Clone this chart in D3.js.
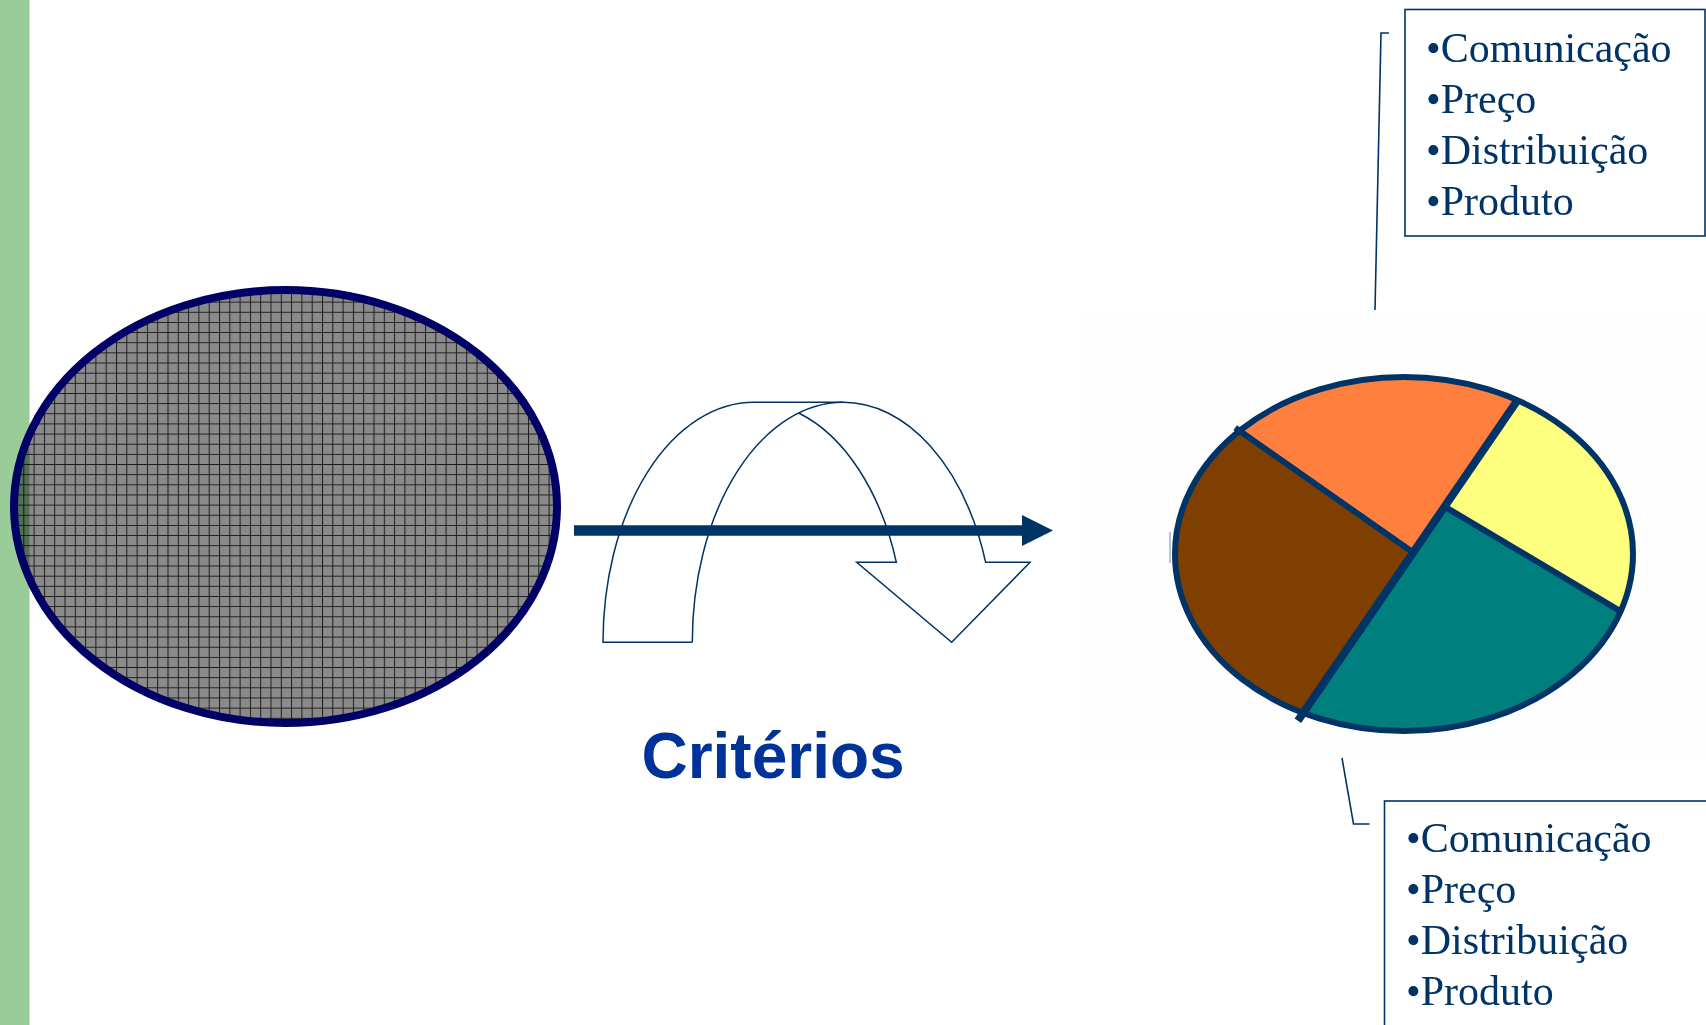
<!DOCTYPE html>
<html>
<head>
<meta charset="utf-8">
<script src="https://cdn.jsdelivr.net/npm/d3@7"></script>
<style>
  html, body { margin: 0; padding: 0; background: #ffffff; }
  svg { display: block; }
</style>
</head>
<body>
<svg id="chart" width="1706" height="1025"></svg>
<script>
// Marketing-mix items listed in both callouts
const mixItems = ["Comunicação", "Preço", "Distribuição", "Produto"];
// Segment shares of the segmented market (pie), clockwise from upper-left
const segmentNames = ["Segmento A", "Segmento B", "Segmento C", "Segmento D"];
const segmentValues = [21, 22, 27, 30];
const segmentColors = ["#ff7f3f", "#ffff7f", "#007f7f", "#7f3f00"];
const processLabel = "Critérios";

const svg = d3.select("#chart");
const ink = "#003366";

// ---- patterns ----
const defs = svg.append("defs");
const grid = defs.append("pattern")
  .attr("id", "grid").attr("patternUnits", "userSpaceOnUse")
  .attr("x", 2.7).attr("y", 7.3).attr("width", 10.3).attr("height", 10.15);
grid.append("rect").attr("width", 10.3).attr("height", 10.15).attr("fill", "#8a8a8a");
grid.append("path").attr("d", "M0,0.5H10.3M0.5,0V10.15")
  .attr("stroke", "#1c1c1c").attr("stroke-width", 1).attr("fill", "none");

// ---- left accent strip ----
svg.append("rect").attr("x", 0).attr("y", 0).attr("width", 29.5).attr("height", 1025)
  .attr("fill", "#99cc99");

// ---- undifferentiated market (hatched ellipse) ----
const market = { cx: 285.5, cy: 506.5, rx: 271.5, ry: 216.5 };
svg.append("ellipse")
  .attr("cx", market.cx).attr("cy", market.cy).attr("rx", market.rx).attr("ry", market.ry)
  .attr("fill", "url(#grid)").style("mix-blend-mode", "multiply");
svg.append("ellipse")
  .attr("cx", market.cx).attr("cy", market.cy).attr("rx", market.rx).attr("ry", market.ry)
  .attr("fill", "none").attr("stroke", "#000066").attr("stroke-width", 8);

// ---- curved (U-turn) arrow outline ----
const bend = { base: 642.3, top: 402.3, rx: 151, cxA: 754, cxB: 843.3, neck: 562.3 };
const ry = bend.base - bend.top;
const xOnEllipse = (cx, y, side) => cx + side * bend.rx * Math.sqrt(1 - Math.pow((bend.base - y) / ry, 2));
const s = (bend.cxB - bend.cxA) / (2 * bend.rx);
const cross = { x: bend.cxA + bend.rx * s, y: bend.base - ry * Math.sqrt(1 - s * s) };
const neckOuter = xOnEllipse(bend.cxB, bend.neck, 1);
const neckInner = xOnEllipse(bend.cxA, bend.neck, 1);
const head = { right: 1030, left: 856.7, tipX: 951.7 };

const outline =
  `M${bend.cxB - bend.rx},${bend.base}L${bend.cxA - bend.rx},${bend.base}` +
  `A${bend.rx},${ry} 0 0 1 ${bend.cxA},${bend.top}` +
  `L${bend.cxB},${bend.top}` +
  `A${bend.rx},${ry} 0 0 1 ${neckOuter},${bend.neck}` +
  `L${head.right},${bend.neck}L${head.tipX},${bend.base}L${head.left},${bend.neck}L${neckInner},${bend.neck}` +
  `A${bend.rx},${ry} 0 0 0 ${cross.x},${cross.y}`;
const innerEdge =
  `M${bend.cxB - bend.rx},${bend.base}A${bend.rx},${ry} 0 0 1 ${bend.cxB},${bend.top}`;
svg.append("path").attr("d", outline)
  .attr("fill", "none").attr("stroke", ink).attr("stroke-width", 1.5).attr("stroke-linejoin", "miter");
svg.append("path").attr("d", innerEdge)
  .attr("fill", "none").attr("stroke", ink).attr("stroke-width", 1.5);

// ---- straight process arrow ----
const shaft = { x0: 574, x1: 1023, y: 530.5, w: 10.5 };
svg.append("line")
  .attr("x1", shaft.x0).attr("x2", shaft.x1).attr("y1", shaft.y).attr("y2", shaft.y)
  .attr("stroke", ink).attr("stroke-width", shaft.w);
svg.append("path")
  .attr("d", `M${shaft.x1 - 1},${shaft.y - 15.5}L1053,${shaft.y}L${shaft.x1 - 1},${shaft.y + 15.5}Z`)
  .attr("fill", ink);

svg.append("text")
  .attr("x", 773).attr("y", 778)
  .attr("text-anchor", "middle")
  .attr("font-family", "'Liberation Sans', Arial, sans-serif")
  .attr("font-weight", "bold").attr("font-size", 64)
  .attr("fill", "#003399")
  .text(processLabel);

// ---- segmented market (pie) ----
svg.append("rect").attr("x", 1078).attr("y", 310).attr("width", 628).attr("height", 447)
  .attr("fill", "#fefefe");

const pieGeo = { cx: 1404, cy: 554, rx: 229, ry: 177, start: -45.9 * Math.PI / 180 };
const rim = a => [pieGeo.cx + pieGeo.rx * Math.sin(a), pieGeo.cy - pieGeo.ry * Math.cos(a)];
const arcs = d3.pie().sort(null)
  .startAngle(pieGeo.start).endAngle(pieGeo.start + 2 * Math.PI)(segmentValues);

// main dividing line runs from the first inner boundary to the opposite one
const lineTop = rim(arcs[1].startAngle);
const lineBottom = rim(arcs[3].startAngle);
const along = t => [lineTop[0] + t * (lineBottom[0] - lineTop[0]), lineTop[1] + t * (lineBottom[1] - lineTop[1])];
// where the secondary boundaries meet the main line
const hubUpper = along(0.34);
const hubLower = along(0.487);
const hubs = [hubLower, hubUpper, hubUpper, hubLower];

svg.append("g").selectAll("path")
  .data(arcs)
  .join("path")
  .attr("d", (d, i) => {
    const a0 = rim(d.startAngle), a1 = rim(d.endAngle);
    const large = (d.endAngle - d.startAngle) > Math.PI ? 1 : 0;
    return `M${hubs[i][0]},${hubs[i][1]}L${a0[0]},${a0[1]}` +
      `A${pieGeo.rx},${pieGeo.ry} 0 ${large} 1 ${a1[0]},${a1[1]}Z`;
  })
  .attr("fill", (d, i) => segmentColors[i])
  .attr("stroke", "none");

svg.append("ellipse")
  .attr("cx", pieGeo.cx).attr("cy", pieGeo.cy).attr("rx", pieGeo.rx).attr("ry", pieGeo.ry)
  .attr("fill", "none").attr("stroke", ink).attr("stroke-width", 6);

// secondary boundaries
const extend = (from, to, k) => [to[0] + (to[0] - from[0]) * k, to[1] + (to[1] - from[1]) * k];
const boA = rim(arcs[0].startAngle);
const boAx = extend(hubLower, boA, 0.025);
svg.append("line")
  .attr("x1", hubLower[0]).attr("y1", hubLower[1]).attr("x2", boAx[0]).attr("y2", boAx[1])
  .attr("stroke", ink).attr("stroke-width", 6);
const ytA = rim(arcs[2].startAngle);
svg.append("line")
  .attr("x1", hubUpper[0]).attr("y1", hubUpper[1]).attr("x2", ytA[0]).attr("y2", ytA[1])
  .attr("stroke", ink).attr("stroke-width", 6);
const lbx = extend(lineTop, lineBottom, 0.025);
svg.append("line")
  .attr("x1", lineTop[0]).attr("y1", lineTop[1]).attr("x2", lbx[0]).attr("y2", lbx[1])
  .attr("stroke", ink).attr("stroke-width", 8);
svg.append("line")
  .attr("x1", 1170).attr("x2", 1170).attr("y1", 532).attr("y2", 563)
  .attr("stroke", "#6f88a8").attr("stroke-width", 1);

// ---- callouts ----
function callout(box, leader, textX, baseline0) {
  svg.append("rect")
    .attr("x", box.x).attr("y", box.y).attr("width", box.w).attr("height", box.h)
    .attr("fill", "#ffffff").attr("stroke", ink).attr("stroke-width", 1.6);
  svg.append("path").attr("d", d3.line()(leader))
    .attr("fill", "none").attr("stroke", ink).attr("stroke-width", 1.6);
  svg.append("g").selectAll("text")
    .data(mixItems)
    .join("text")
    .attr("x", textX)
    .attr("y", (d, i) => baseline0 + i * 51)
    .attr("font-family", "'Liberation Serif', 'Times New Roman', serif")
    .attr("font-size", 42)
    .attr("fill", ink)
    .text(d => "•" + d);
}
callout({ x: 1405, y: 9.5, w: 300, h: 226.5 },
  [[1389, 33], [1381, 33], [1375, 310]], 1426, 61.5);
callout({ x: 1384.5, y: 801, w: 330, h: 240 },
  [[1342, 758], [1353.5, 824], [1369.5, 824]], 1406, 851.5);
</script>
</body>
</html>
